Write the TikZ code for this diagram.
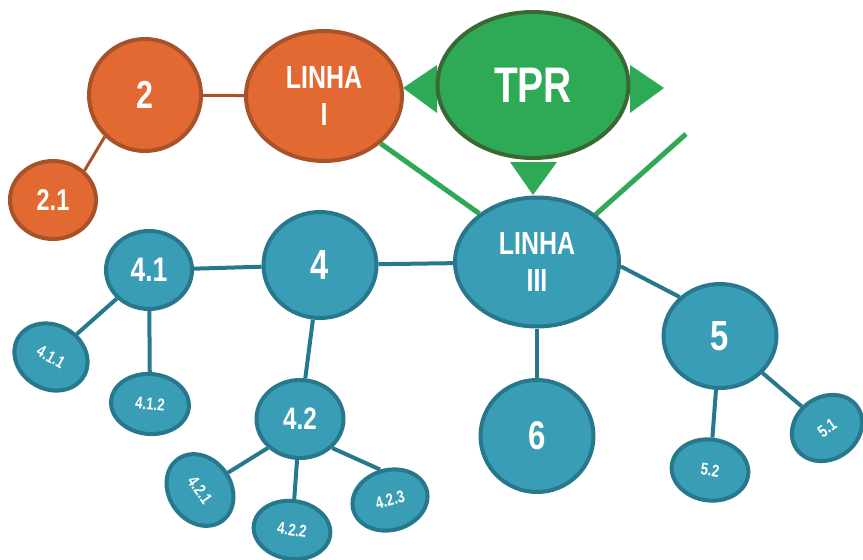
\documentclass[tikz,border=0pt]{standalone}
\usepackage{fontspec}
\newfontfamily\nar[FakeStretch=0.78]{Liberation Sans}
\usetikzlibrary{shapes.geometric}
\pgfdeclarelayer{background}
\pgfsetlayers{background,main}
\definecolor{ofill}{HTML}{E26A32}
\definecolor{oline}{HTML}{A8522A}
\definecolor{gfill}{HTML}{2EAA56}
\definecolor{gline}{HTML}{3A6834}
\definecolor{bfill}{HTML}{3A9DB6}
\definecolor{bline}{HTML}{27788C}
\tikzset{
  base/.style={ellipse, inner sep=0pt, line width=4pt, text=white, align=center},
  orng/.style={base, fill=ofill, draw=oline},
  blu/.style={base, fill=bfill, draw=bline},
  grn/.style={base, fill=gfill, draw=gline},
  fs/.style={font=\nar\bfseries\fontsize{#1}{#1}\selectfont},
  fsl/.style={font=\nar\bfseries\fontsize{32}{37}\selectfont},
  sz/.style args={#1x#2}{minimum width=#1pt, minimum height=#2pt},
  bcon/.style={draw=bline, line width=4pt},
  gcon/.style={draw=gfill, line width=5pt},
  ocon/.style={draw=oline, line width=3pt},
  tri/.style={fill=gfill}
}
\begin{document}
\begin{tikzpicture}[x=1pt,y=-1pt]
\useasboundingbox (0,0) rectangle (863,560);
% TPR triangles
\fill[tri] (403,88) -- (437,65) -- (437,113) -- cycle;
\fill[tri] (630,65) -- (630,113) -- (664,88) -- cycle;
\fill[tri] (510,162) -- (557,162) -- (533,195) -- cycle;
% nodes
\node[orng, sz=112x112, fs=39] (n2) at (145,95) {2};
\node[orng, sz=156x130, fsl] (nL1) at (324,96) {LINHA\\I};
\node[orng, sz=86x78, fs=30] (n21) at (53,200) {2.1};
\node[grn, sz=191x146, fs=50] (nT) at (533,85) {TPR};
\node[blu, sz=164x129, fsl] (nL3) at (537,262) {LINHA\\III};
\node[blu, sz=113x106, fs=42] (n4) at (320,265) {4};
\node[blu, sz=86x78, fs=34] (n41) at (149,270) {4.1};
\node[blu, sz=76x64, fs=17, rotate=-30] (n411) at (51,357) {4.1.1};
\node[blu, sz=78x60, fs=17, rotate=-5] (n412) at (150,404) {4.1.2};
\node[blu, sz=87x78, fs=31] (n42) at (300,419) {4.2};
\node[blu, sz=76x62, fs=17, rotate=-55] (n421) at (200,490) {4.2.1};
\node[blu, sz=77x58, fs=17, rotate=-8] (n422) at (292,530) {4.2.2};
\node[blu, sz=76x60, fs=17, rotate=15] (n423) at (390,500) {4.2.3};
\node[blu, sz=113x112, fs=40] (n6) at (537,436) {6};
\node[blu, sz=113x104, fs=42] (n5) at (720,336) {5};
\node[blu, sz=77x61, fs=17, rotate=-8] (n52) at (710,470) {5.2};
\node[blu, sz=74x62, fs=17, rotate=35] (n51) at (827,428) {5.1};
\coordinate (g2) at (686,134);
% connectors
\begin{pgfonlayer}{background}
\draw[ocon] (n2) -- (nL1);
\draw[ocon] (n21.43) -- (n2.226);
\draw[gcon] (nL1.-40) -- (nL3.140);
\draw[gcon] (g2) -- (nL3.39);
\draw[bcon] (n41) -- (n4);
\draw[bcon] (n4) -- (nL3);
\draw[bcon] (n41) -- (n411);
\draw[bcon] (n41) -- (n412);
\draw[bcon] (n4) -- (n42);
\draw[bcon] (n42.222) -- (n421);
\draw[bcon] (n42) -- (n422);
\draw[bcon] (n42.-42) -- (n423.93);
\draw[bcon] (nL3.-3) -- (n5.136);
\draw[bcon] (nL3) -- (n6);
\draw[bcon] (n5.-41) -- (n51);
\draw[bcon] (n5) -- (n52);
\end{pgfonlayer}
\end{tikzpicture}
\end{document}
